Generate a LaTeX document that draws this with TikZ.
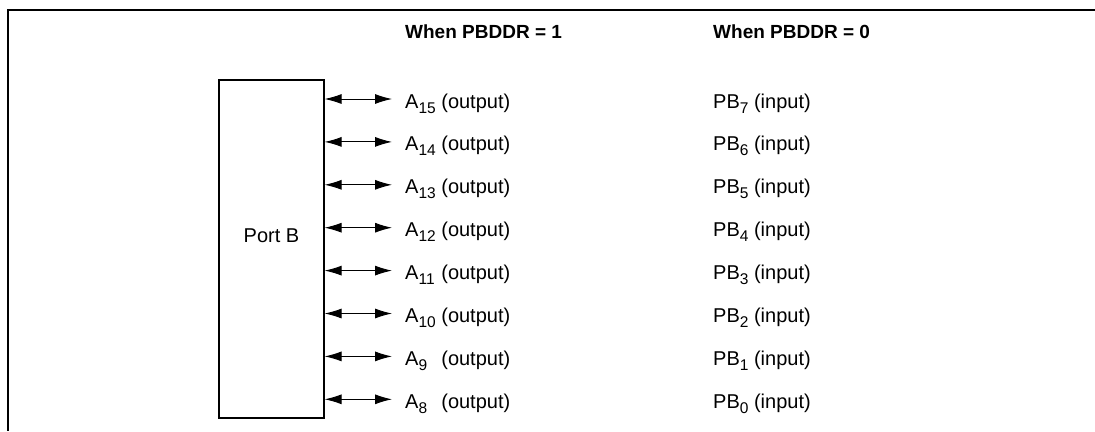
\documentclass[tikz,border=0pt]{standalone}
\usepackage{fontspec}
\setmainfont{Liberation Sans}
\usetikzlibrary{arrows.meta}
\newlength{\subw}
\newcommand{\lblfont}{\fontsize{20bp}{24bp}\selectfont}
\newcommand{\mysub}[1]{\raisebox{-5bp}{\fontsize{15.5bp}{18bp}\selectfont #1}}
\begin{document}
\settowidth{\subw}{\lblfont A\mysub{10}}%
\begin{tikzpicture}[x=1bp,y=-1bp,
  frameline/.style={line width=2bp},
  boxline/.style={draw,line width=1.2bp,inner sep=0},
  bidir/.style={line width=0.9bp,{Latex[length=17bp,width=10bp]}-{Latex[length=17bp,width=10bp]}},
  lbl/.style={anchor=base west,inner sep=0,font=\lblfont},
  hdr/.style={anchor=base west,inner sep=0,font=\fontsize{19bp}{23bp}\selectfont\bfseries}]
\useasboundingbox (0,0) rectangle (1095,431);
% frame
\coordinate (ftl) at (8,10);
\coordinate (ftr) at (1095,10);
\coordinate (fbl) at (8,431);
\draw[frameline] (ftr) -- (ftl) -- (fbl);
% headers
\node[hdr] (h1) at (405,38.5) {When PBDDR = 1};
\node[hdr] (h0) at (713,38.5) {When PBDDR = 0};
% port box
\node[boxline,minimum width=105bp,minimum height=338bp] (portb) at (271.5,249) {};
\node[inner sep=0,font=\lblfont] (portlbl) at (271.5,236) {Port B};
\foreach \i/\an/\pb in {0/15/7,1/14/6,2/13/5,3/12/4,4/11/3,5/10/2,6/9/1,7/8/0}{
  \pgfmathsetmacro{\ry}{99+\i*42.9}
  \coordinate (t\i) at (392,\ry);
  \draw[bidir] (portb.east |- t\i) -- (t\i);
  \node[lbl] (a\i) at (405,\ry+9) {\makebox[\subw][l]{A\mysub{\an}} (output)};
  \node[lbl] (p\i) at (713,\ry+9) {PB\mysub{\pb} (input)};
}
\end{tikzpicture}
\end{document}
